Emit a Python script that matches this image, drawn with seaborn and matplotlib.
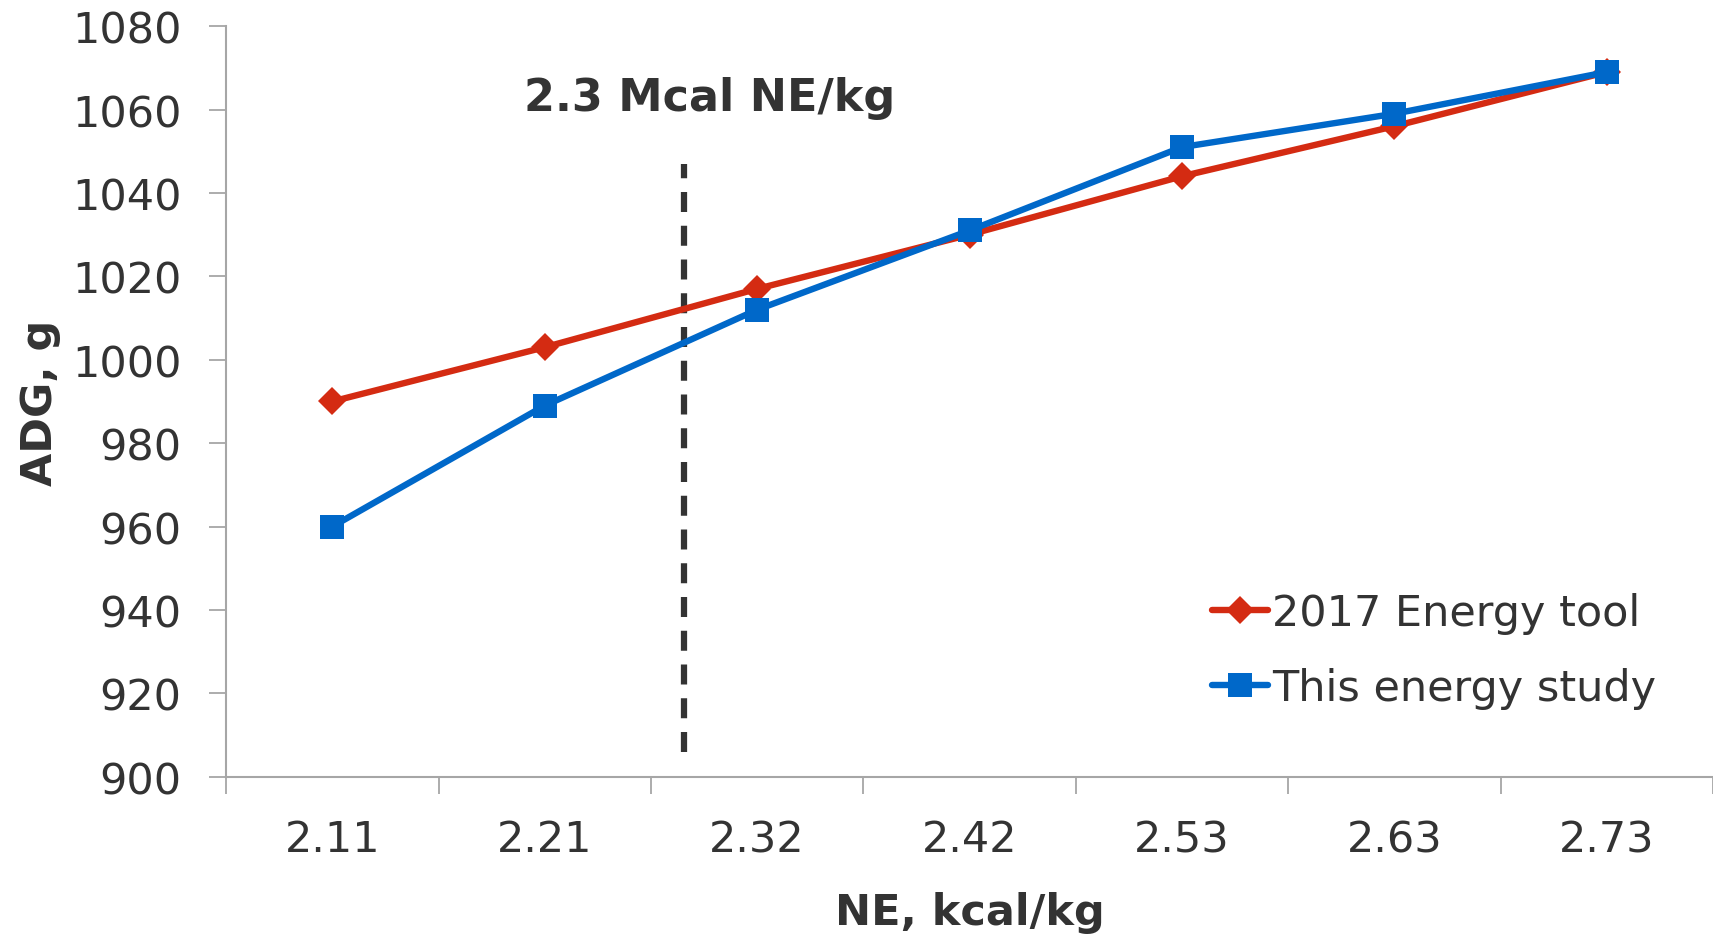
import numpy as np
import pandas as pd
import matplotlib
matplotlib.use('Agg')
import matplotlib.pyplot as plt
import seaborn as sns

# values
ne_labels = ['2.11', '2.21', '2.32', '2.42', '2.53', '2.63', '2.73']
tool_2017 = [990, 1003, 1017, 1030, 1044, 1056, 1069]
this_study = [960, 989, 1012, 1031, 1051, 1059, 1069]
series_names = ['2017 Energy tool', 'This energy study']
cutoff_pos = 1.655          # 2.3 Mcal NE/kg, between 2.21 and 2.32
cutoff_range = [906, 1047]
y_ticks = list(range(900, 1081, 20))

red = '#D42B12'
blue = '#0068C9'
text_col = '#333333'

sns.set_theme(style='white')
plt.rcParams['font.family'] = ['DejaVu Sans']

pos = np.arange(len(ne_labels))
df = pd.DataFrame({
    'pos': np.concatenate([pos, pos]),
    'adg': tool_2017 + this_study,
    'series': [series_names[0]] * len(pos) + [series_names[1]] * len(pos),
})

fs = 31

fig = plt.figure(figsize=(17.13, 9.37), dpi=100)
ax = fig.add_axes([0.132, 0.170, 0.868, 0.801])

sns.lineplot(data=df[df.series == series_names[0]], x='pos', y='adg', ax=ax,
             color=red, lw=4.6, marker='D', markersize=14, markeredgewidth=0,
             label=series_names[0], zorder=3)
sns.lineplot(data=df[df.series == series_names[1]], x='pos', y='adg', ax=ax,
             color=blue, lw=4.6, marker='s', markersize=17, markeredgewidth=0,
             label=series_names[1], zorder=4)

ax.plot([cutoff_pos, cutoff_pos], cutoff_range, color=text_col, lw=4.5,
        ls=(0, (3.2, 2.2)), zorder=2)
ax.text(cutoff_pos + 0.12, 1063, '2.3 Mcal NE/kg', ha='center', va='center',
        fontsize=32, fontweight='bold', color=text_col)

ax.set_xlim(-0.5, len(ne_labels) - 0.5)
ax.set_ylim(900, 1080)
ax.set_yticks(y_ticks)
ax.set_yticklabels([str(v) for v in y_ticks])
ax.set_xticks(pos)
ax.set_xticklabels(ne_labels)
ax.set_xticks(np.arange(len(ne_labels) + 1) - 0.5, minor=True)

for s in ['top', 'right']:
    ax.spines[s].set_visible(False)
for s in ['left', 'bottom']:
    ax.spines[s].set_color('#A6A6A6')
    ax.spines[s].set_linewidth(1.5)

ax.tick_params(axis='y', which='major', direction='out', length=12, width=1.3,
               color='#A6A6A6', labelsize=fs, labelcolor=text_col, pad=20, left=True)
ax.tick_params(axis='x', which='major', length=0, labelsize=fs,
               labelcolor=text_col, pad=30)
ax.tick_params(axis='x', which='minor', direction='out', length=12, width=1.3,
               color='#A6A6A6', bottom=True)

ax.set_xlabel('NE, kcal/kg', fontsize=fs, fontweight='bold', color=text_col, labelpad=22)
ax.set_ylabel('ADG, g', fontsize=fs, fontweight='bold', color=text_col, labelpad=8)

ax.legend(loc='center left', bbox_to_anchor=(0.637, 0.168), frameon=False,
          fontsize=fs, handlelength=1.3, handletextpad=0.1, labelspacing=0.75,
          labelcolor=text_col)

fig.savefig('out.png', dpi=100)
